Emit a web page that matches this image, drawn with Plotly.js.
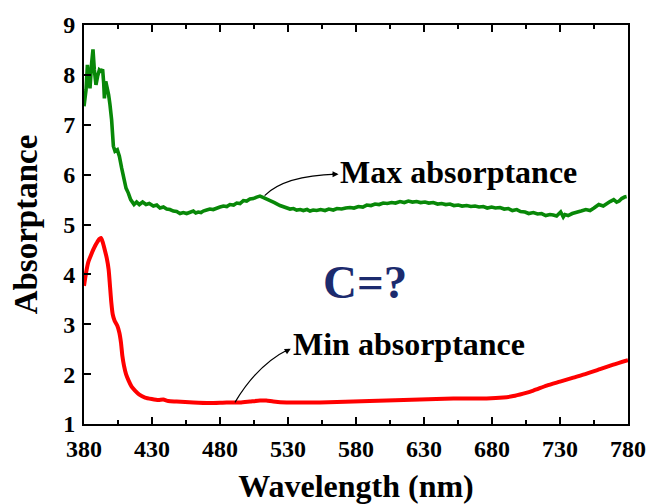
<!DOCTYPE html>
<html>
<head>
<meta charset="utf-8">
<script src="https://cdn.plot.ly/plotly-3.0.1.min.js"></script>
<style>html,body{margin:0;padding:0;background:#fff;}#chart{width:649px;height:504px;}</style>
</head>
<body>
<div id="chart"></div>
<script>
// Max absorptance (green)
var maxWavelength = [380,381.5,382.5,383.4,384.4,385.6,386.6,387.6,388.8,390,391.3,392.7,393.7,394.5,395,396,397.2,398.1,399.1,400.3,401.6,402.8,404.5,406,407.7,409.4,410.9,412.6,414.3,416.8,418.7,420.7,423.1,425.6,428,431,433.5,435.9,438.4,440.8,443.2,445.7,448.1,450.6,453,455.5,458,460.4,462.2,464,466,467.7,470.2,472.6,475,477.5,480,482.5,485,487.3,490,492.3,494.7,497.2,499.6,502,504.5,507,509.4,512,514.5,516.8,520,524.1,527.8,531.5,534,536.4,539,541.3,544,546.2,548.5,551.1,554,557.2,560,563.3,566,569.4,572.5,575.6,578.5,581.8,585,587.9,591,594,597,600,603,606.2,609,612.4,615.5,618.5,621.5,624.6,627.5,630.7,633.5,636.8,640,643,646,649.1,652,655.2,658,661.4,664.5,667.5,670.5,673.6,676.5,679.7,682.5,685.9,689,692,695,698.2,701,704.3,707,710.4,713.5,716.5,719.5,722.6,725,727.5,730.5,732.4,733.6,736,739,742.3,745.5,749,752.1,755,758.5,761.8,764.5,766.8,769.5,771.7,773.5,775.4,777.5,779,780];
var maxAbsorptance = [7.37,7.70,8.20,7.97,7.73,8.23,8.51,8.10,7.80,7.97,8.10,8.07,8.11,7.83,7.53,7.87,7.73,7.60,7.40,7.10,6.57,6.47,6.50,6.37,6.13,5.90,5.73,5.63,5.50,5.40,5.45,5.40,5.45,5.40,5.42,5.37,5.39,5.33,5.35,5.31,5.30,5.27,5.26,5.22,5.24,5.22,5.25,5.27,5.23,5.25,5.24,5.27,5.29,5.31,5.30,5.33,5.35,5.37,5.36,5.40,5.39,5.43,5.42,5.48,5.47,5.51,5.52,5.55,5.57,5.54,5.51,5.49,5.44,5.38,5.34,5.31,5.32,5.29,5.30,5.28,5.30,5.27,5.29,5.28,5.30,5.28,5.31,5.29,5.32,5.31,5.33,5.34,5.33,5.36,5.35,5.39,5.38,5.41,5.40,5.43,5.42,5.44,5.43,5.46,5.44,5.47,5.45,5.46,5.44,5.45,5.43,5.44,5.41,5.42,5.40,5.41,5.38,5.39,5.37,5.38,5.36,5.37,5.35,5.36,5.33,5.35,5.33,5.34,5.31,5.32,5.28,5.30,5.26,5.25,5.22,5.24,5.21,5.22,5.18,5.20,5.19,5.17,5.25,5.15,5.20,5.18,5.22,5.24,5.27,5.30,5.28,5.33,5.40,5.37,5.43,5.46,5.50,5.45,5.47,5.52,5.55,5.56];

// Min absorptance (red)
var minWavelength = [380,381.5,383.2,384.9,386.9,388.3,389.8,391.3,392.5,393.7,395.2,396.7,398.1,399.1,400.1,401.1,402.5,404.5,406,407.2,408.2,409.4,410.9,412.8,415,417.5,420.7,424.9,429.8,434.7,438.3,442,448.1,460.4,472.6,484.9,494.7,502,509.4,514,519.2,529,541,553.5,566,578,590,602.5,615,627,639,651.6,664,676,688.3,695.7,703,710.4,720.2,730,739.8,749.6,759.4,769.2,780];
var minAbsorptance = [3.77,4.03,4.25,4.37,4.50,4.58,4.65,4.71,4.73,4.65,4.50,4.33,4.10,3.77,3.43,3.20,3.07,2.97,2.83,2.63,2.37,2.17,2.00,1.87,1.75,1.67,1.59,1.53,1.50,1.48,1.49,1.46,1.45,1.43,1.42,1.43,1.43,1.45,1.47,1.47,1.45,1.43,1.43,1.43,1.44,1.45,1.46,1.47,1.48,1.49,1.50,1.51,1.51,1.51,1.53,1.56,1.61,1.67,1.77,1.85,1.93,2.01,2.10,2.19,2.28];

var xTicks = [380,430,480,530,580,630,680,730,780];
var yTicks = [1,2,3,4,5,6,7,8,9];

var serif = "Liberation Serif, Times New Roman, serif";

var traces = [
  {x: maxWavelength, y: maxAbsorptance, type: 'scatter', mode: 'lines', line: {color: '#088808', width: 3.6}, hoverinfo: 'skip'},
  {x: minWavelength, y: minAbsorptance, type: 'scatter', mode: 'lines', line: {color: '#ff0000', width: 4, shape: 'spline', smoothing: 0.6}, hoverinfo: 'skip'}
];

var layout = {
  width: 649, height: 504,
  margin: {l: 84, r: 21, t: 25, b: 80},
  paper_bgcolor: '#fff', plot_bgcolor: '#fff',
  showlegend: false,
  xaxis: {
    range: [380, 780], tickvals: xTicks, ticktext: xTicks.map(String),
    ticks: 'inside', ticklen: 7, tickwidth: 2, tickcolor: '#000',
    minor: {dtick: 25, tick0: 380, ticks: 'inside', ticklen: 4, tickwidth: 1.5, tickcolor: '#000'},
    showline: true, linewidth: 2, linecolor: '#000', mirror: 'allticks',
    showgrid: false, zeroline: false, ticklabelstandoff: 2,
    tickfont: {family: serif, size: 24, color: '#000', weight: 'bold'},
    title: {text: 'Wavelength (nm)', font: {family: serif, size: 32, color: '#000', weight: 'bold'}, standoff: 20}
  },
  yaxis: {
    range: [1, 9], tickvals: yTicks, ticktext: yTicks.map(String),
    ticks: 'inside', ticklen: 7, tickwidth: 2, tickcolor: '#000',
    showline: true, linewidth: 2, linecolor: '#000', mirror: true,
    showgrid: false, zeroline: false, ticklabelstandoff: 2,
    tickfont: {family: serif, size: 24, color: '#000', weight: 'bold'},
    title: {text: 'Absorptance', font: {family: serif, size: 33, color: '#000', weight: 'bold'}, standoff: 16}
  },
  shapes: [
    {type: 'path', xref: 'x', yref: 'y', path: 'M 512.8,5.58 Q 527.5,5.98 565.5,6.01', line: {color: '#000', width: 1.2}},
    {type: 'path', xref: 'x', yref: 'y', path: 'M 491,1.434 Q 507.9,2.2 530.5,2.50', line: {color: '#000', width: 1.2}}
  ],
  annotations: [
    {x: 566.8, y: 6.06, xref: 'x', yref: 'y', text: 'Max absorptance', showarrow: false, xanchor: 'left', yanchor: 'middle', font: {family: serif, size: 32, color: '#000', weight: 'bold'}},
    {x: 532.3, y: 2.6, xref: 'x', yref: 'y', text: 'Min absorptance', showarrow: false, xanchor: 'left', yanchor: 'middle', font: {family: serif, size: 32, color: '#000', weight: 'bold'}},
    {x: 586.6, y: 3.84, xref: 'x', yref: 'y', text: 'C=?', showarrow: false, xanchor: 'center', yanchor: 'middle', font: {family: serif, size: 47, color: '#1c2b6e', weight: 'bold'}},
    {x: 567.2, y: 6.01, xref: 'x', yref: 'y', text: '', showarrow: true, arrowhead: 2, arrowsize: 1, arrowwidth: 1.2, arrowcolor: '#000', ax: -8, ay: 0},
    {x: 532, y: 2.51, xref: 'x', yref: 'y', text: '', showarrow: true, arrowhead: 2, arrowsize: 1, arrowwidth: 1.2, arrowcolor: '#000', ax: -7, ay: 4}
  ]
};

Plotly.newPlot('chart', traces, layout, {staticPlot: true, displayModeBar: false});
</script>
</body>
</html>
